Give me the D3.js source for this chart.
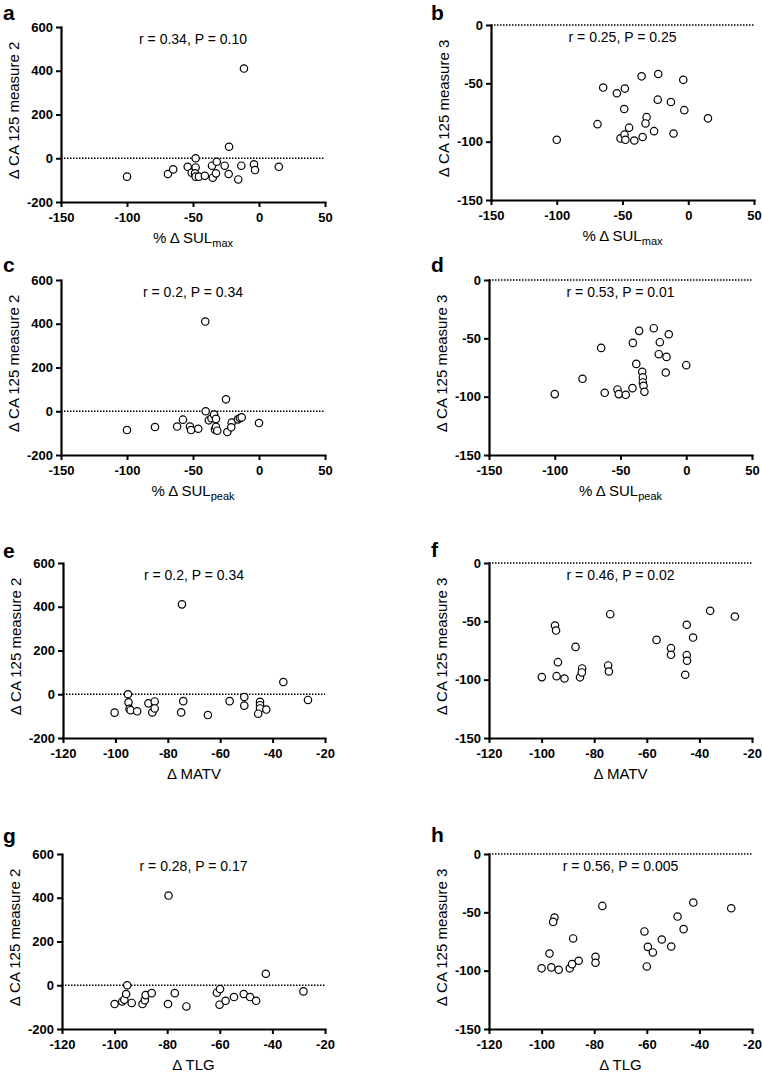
<!DOCTYPE html>
<html><head><meta charset="utf-8">
<script src="https://cdn.jsdelivr.net/npm/d3@7"></script>
<style>
html,body{margin:0;padding:0;background:#fff;}
svg{display:block;font-family:"Liberation Sans",Arial,Helvetica,sans-serif;}
</style></head>
<body>
<svg id="chart" width="762" height="1074"></svg>
<script>
// ---- tick values ----
const xTicksPct = [-150, -100, -50, 0, 50];
const xTicksVol = [-120, -100, -80, -60, -40, -20];
const yTicksM2 = [-200, 0, 200, 400, 600];
const yTicksM3 = [-150, -100, -50, 0];

// ---- panel a: %ΔSULmax vs ΔCA125 measure 2 ----
const aX = [-100,-69,-65,-54,-51,-48,-48,-48.5,-48,-45.5,-41,-35.6,-35,-32,-32.6,-26,-22.7,-23,-15.7,-13.4,-11.4,-3.8,-3,15];
const aY = [-84,-72,-51,-39,-66,0,-42,-69,-84,-84,-80,-34,-89,-16,-69,-34,52.5,-72,-97,-34,410,-28,-54,-39];
// ---- panel b: %ΔSULmax vs ΔCA125 measure 3 ----
const bX = [-100,-69,-64.7,-54.3,-51.5,-48.2,-48.7,-48.5,-47.8,-45,-41,-35.5,-34.7,-31.7,-32.5,-26,-22.8,-23.2,-13.2,-11.2,-3.8,-3,15];
const bY = [-98.4,-85,-53.6,-58.5,-97.2,-54.5,-72,-94,-98.4,-88,-99,-44,-96,-79,-84.4,-91,-42,-64,-66,-93,-47,-73,-80];
// ---- panel c: %ΔSULpeak vs ΔCA125 measure 2 ----
const cX = [-100,-78.8,-62,-57.6,-52.3,-51.5,-46,-40.4,-38,-36,-34,-32.6,-33.3,-32.6,-31.6,-25,-24,-20.7,-21,-16,-14.5,-13.1,0,-40.7];
const cY = [-86,-72,-70,-38.5,-70,-86,-80,0,-41.5,-32,-15.6,-35,-84,-71,-89,54.5,-95,-52,-73.5,-37,-31,-28,-54,410];
// ---- panel d: %ΔSULpeak vs ΔCA125 measure 3 ----
const dX = [-100,-78.9,-64.7,-62,-52.3,-51.3,-46,-40.6,-40.9,-38,-35.8,-33.5,-33,-33,-32.5,-31.8,-24.7,-20.1,-20.9,-15,-15.6,-13.3,0];
const dY = [-97.8,-84.7,-58.2,-96.7,-93.8,-97.8,-98.4,-53.9,-92.7,-71.9,-43.6,-78.7,-83.5,-87.8,-90.7,-95.8,-41.3,-53.3,-63.6,-65.9,-79.3,-46.5,-73];
// ---- panel e: ΔMATV vs ΔCA125 measure 2 ----
const eX = [-100.3,-95.2,-95,-94.6,-94.2,-91.7,-87.4,-85.9,-85,-85,-74.9,-74.6,-74.1,-64.7,-56.4,-50.8,-50.8,-44.8,-44.8,-44.8,-45.5,-42.4,-35.9,-26.5];
const eY = [-84,0,-37,-67,-73,-78,-41.5,-83,-33,-65,-83,411,-31.5,-95,-31.5,-12.6,-52,-35,-50,-65,-89,-70,56,-26];
// ---- panel f: ΔMATV vs ΔCA125 measure 3 ----
const fX = [-99.9,-94.9,-94.5,-93.8,-94.3,-91.3,-87.1,-85.4,-84.6,-84.7,-74.7,-74.4,-73.9,-56.3,-50.8,-50.8,-44.8,-44.8,-44.7,-45.4,-42.4,-35.9,-26.5];
const fY = [-97.8,-53.6,-57.9,-85,-97,-99,-71.9,-98,-90.4,-93.8,-87.8,-93,-43.9,-65.9,-73,-78.7,-53,-79,-83.8,-95.8,-63.9,-41,-45.9];
// ---- panel g: ΔTLG vs ΔCA125 measure 2 ----
const gX = [-100,-97.1,-96.3,-95.6,-95.2,-93.5,-89.4,-88.5,-88.2,-85.9,-79.7,-79.5,-77.1,-72.7,-61.1,-59.9,-60.1,-57.8,-54.6,-50.9,-48.5,-46.2,-42.5,-28.2];
const gY = [-86,-74,-66,-40,0,-81,-86,-68,-45,-36,-86,410,-36,-97,-34,-17.5,-89,-71,-54,-40,-54,-71,52.5,-28];
// ---- panel h: ΔTLG vs ΔCA125 measure 3 ----
const hX = [-100,-97,-96.3,-95.1,-95.6,-93.5,-89.3,-88.4,-88,-85.9,-79.5,-79.5,-76.9,-60.9,-59.6,-60,-57.7,-54.3,-50.7,-48.3,-46,-42.3,-27.9];
const hY = [-98,-85.3,-97.2,-54.5,-58.2,-99.2,-98,-94.4,-72.4,-91.5,-88.1,-93.2,-44.5,-66.4,-79.6,-96.4,-84.4,-73.3,-79.3,-53.6,-64.4,-41.6,-46.5];

// ---- text ----
const panelLetters = ["a","b","c","d","e","f","g","h"];
const statTexts = ["r = 0.34, P = 0.10","r = 0.25, P = 0.25","r = 0.2, P = 0.34","r = 0.53, P = 0.01",
                   "r = 0.2, P = 0.34","r = 0.46, P = 0.02","r = 0.28, P = 0.17","r = 0.56, P = 0.005"];
const yTitles = ["Δ CA 125 measure 2","Δ CA 125 measure 3"];

const panels = [
  {x:aX, y:aY, xt:xTicksPct, yt:yTicksM2, xl:["% Δ SUL","max"], L:61, R:325, T:27, B:202, lx:3, ly:20},
  {x:bX, y:bY, xt:xTicksPct, yt:yTicksM3, xl:["% Δ SUL","max"], L:491, R:754, T:25, B:200, lx:431, ly:20},
  {x:cX, y:cY, xt:xTicksPct, yt:yTicksM2, xl:["% Δ SUL","peak"], L:61, R:325, T:280, B:455, lx:3, ly:272},
  {x:dX, y:dY, xt:xTicksPct, yt:yTicksM3, xl:["% Δ SUL","peak"], L:489, R:752, T:280, B:455, lx:431, ly:272},
  {x:eX, y:eY, xt:xTicksVol, yt:yTicksM2, xl:["Δ MATV",""], L:63, R:325, T:563, B:738, lx:3, ly:558},
  {x:fX, y:fY, xt:xTicksVol, yt:yTicksM3, xl:["Δ MATV",""], L:489, R:752, T:563, B:738, lx:431, ly:557},
  {x:gX, y:gY, xt:xTicksVol, yt:yTicksM2, xl:["Δ TLG",""], L:62, R:325, T:854, B:1029, lx:3, ly:843},
  {x:hX, y:hY, xt:xTicksVol, yt:yTicksM3, xl:["Δ TLG",""], L:489, R:752, T:854, B:1029, lx:431, ly:842}
];

const svg = d3.select("#chart");

panels.forEach((p, i) => {
  const xs = d3.scaleLinear().domain(d3.extent(p.xt)).range([p.L, p.R]);
  const ys = d3.scaleLinear().domain(d3.extent(p.yt)).range([p.B, p.T]);
  const g = svg.append("g");

  // dotted zero line
  g.append("line")
    .attr("x1", xs(p.xt[0])).attr("x2", xs(p.xt[p.xt.length-1]))
    .attr("y1", ys(0)).attr("y2", ys(0))
    .attr("stroke", "#000").attr("stroke-width", 1.5)
    .attr("stroke-dasharray", "1.5,1.5");

  // axes
  const xAxis = d3.axisBottom(xs).tickValues(p.xt).tickSize(5).tickSizeOuter(0).tickPadding(6).tickFormat(d => String(d));
  const yAxis = d3.axisLeft(ys).tickValues(p.yt).tickSize(5).tickSizeOuter(0).tickPadding(3).tickFormat(d => String(d));
  const gx = g.append("g").attr("transform", `translate(0,${p.B})`).call(xAxis);
  const gy = g.append("g").attr("transform", `translate(${p.L},0)`).call(yAxis);
  [gx, gy].forEach(a => {
    a.select(".domain").attr("stroke-width", 2.2).attr("stroke-linecap", "square");
    a.selectAll(".tick line").attr("stroke-width", 2);
    a.selectAll(".tick text")
      .style("font-size", "13px").style("font-weight", "bold")
      .style("font-family", "'Liberation Sans', Arial, sans-serif").attr("fill", "#000");
  });

  // points
  g.selectAll("circle.pt").data(p.x.map((v, k) => [v, p.y[k]])).enter()
    .append("circle").attr("class", "pt")
    .attr("cx", d => xs(d[0])).attr("cy", d => ys(d[1]))
    .attr("r", 3.7).attr("fill", "#fff").attr("stroke", "#000").attr("stroke-width", 1.2);

  // stat text
  g.append("text").attr("x", (p.L + p.R) / 2).attr("y", p.T + 17)
    .attr("text-anchor", "middle").attr("font-size", 14).text(statTexts[i]);

  // x title
  const xt = g.append("text").attr("x", (p.L + p.R) / 2).attr("y", p.B + 41)
    .attr("text-anchor", "middle").attr("font-size", 15);
  xt.append("tspan").text(p.xl[0]);
  if (p.xl[1]) xt.append("tspan").attr("dy", 4).attr("font-size", 11).text(p.xl[1]);

  // y title
  g.append("text")
    .attr("transform", `translate(${p.L - 42},${(p.T + p.B) / 2 - 4}) rotate(-90)`)
    .attr("text-anchor", "middle").attr("font-size", 15)
    .text(yTitles[i % 2]);

  // panel letter
  g.append("text").attr("x", p.lx).attr("y", p.ly)
    .attr("font-size", 21).attr("font-weight", "bold").text(panelLetters[i]);
});
</script>
</body></html>
